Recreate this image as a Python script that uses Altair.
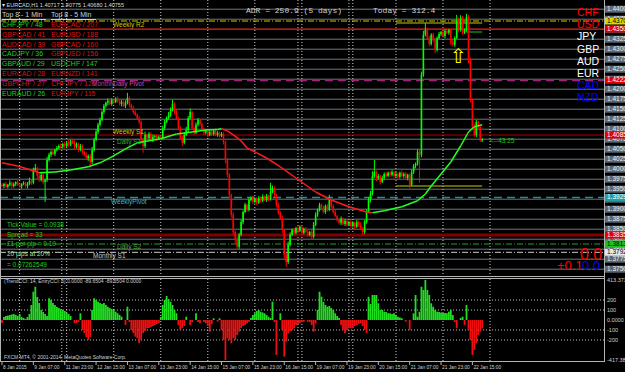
import altair as alt
import pandas as pd

# ---------------- data (prices x 10000) ----------------
open0 = 13961
close_x1e4 = [
    13958, 13963, 13956, 13961, 13966, 13958, 13963, 13968, 13961, 13956,
    13963, 13966, 13958, 13963, 13971, 13966, 13998, 14003, 13983, 13973,
    13986, 13968, 13973, 14023, 14036, 14043, 14038, 14048, 14053, 14058,
    14056, 14063, 14058, 14066, 14061, 14071, 14066, 14056, 14063, 14048,
    14058, 14043, 14036, 14028, 14033, 14018, 14048, 14073, 14093, 14111,
    14123, 14143, 14158, 14166, 14171, 14163, 14173, 14168, 14176, 14171,
    14163, 14168, 14158, 14166, 14178, 14161, 14153, 14143, 14136, 14128,
    14118, 14073, 14058, 14086, 14078, 14088, 14073, 14081, 14083, 14076,
    14081, 14078, 14103, 14118, 14128, 14136, 14148, 14163, 14143, 14128,
    14103, 14078, 14066, 14086, 14098, 14128, 14143, 14103, 14091, 14111,
    14123, 14113, 14098, 14091, 14096, 14086, 14093, 14088, 14096, 14086,
    14091, 14083, 14088, 14068, 14023, 13986, 13936, 13886, 13843, 13823,
    13806, 13836, 13868, 13893, 13911, 13898, 13923, 13928, 13918, 13926,
    13916, 13928, 13921, 13931, 13923, 13933, 13926, 13943, 13953, 13936,
    13911, 13891, 13878, 13848, 13786, 13768, 13811, 13836, 13848, 13841,
    13853, 13846, 13856, 13841, 13851, 13843, 13836, 13843, 13831, 13861,
    13886, 13898, 13911, 13903, 13893, 13908, 13898, 13923, 13908, 13893,
    13883, 13873, 13866, 13876, 13863, 13871, 13861, 13868, 13858, 13866,
    13856, 13868, 13861, 13853, 13843, 13868, 13893, 13923, 13938, 13983,
    13993, 13978, 13983, 13968, 13978, 13988, 13983, 13991, 13986, 13993,
    13983, 13988, 13981, 13991, 13983, 13988, 13978, 13986, 13961, 13993,
    14008, 14013, 14043, 14036, 14236, 14336, 14348, 14328, 14313, 14336,
    14323, 14298, 14328, 14338, 14343, 14333, 14346, 14341, 14348, 14318,
    14311, 14328, 14373, 14348, 14378, 14341, 14348, 14381, 14273, 14173,
    14106, 14086, 14118, 14106, 14072, 14075.5,
]
wick_up = [
    4, 3, 5, 2, 6, 3, 4, 2, 5, 3,
    2, 4, 3, 5, 8, 4, 6, 10, 3, 5,
    4, 6, 3, 8, 5, 4, 6, 3, 5, 4,
    6, 3, 5, 4, 7, 3, 5, 6, 4, 3,
    5, 4, 3, 6, 4, 5, 8, 6, 7, 5,
    6, 4, 5, 3, 6, 4, 5, 3, 4, 6,
    3, 5, 4, 6, 13, 4, 3, 5, 4, 3,
    5, 4, 6, 8, 3, 5, 4, 6, 3, 5,
    4, 3, 6, 5, 4, 7, 6, 10, 4, 5,
    3, 4, 5, 6, 8, 5, 9, 3, 4, 6,
    5, 4, 3, 5, 4, 3, 6, 4, 3, 5,
    4, 3, 5, 4, 3, 5, 4, 3, 6, 4,
    8, 5, 6, 4, 5, 3, 6, 4, 5, 3,
    4, 5, 3, 6, 4, 5, 3, 23, 6, 4,
    3, 5, 4, 6, 3, 5, 8, 6, 4, 5,
    3, 6, 4, 5, 3, 4, 6, 3, 5, 7,
    6, 4, 5, 3, 6, 4, 5, 13, 3, 4,
    5, 3, 4, 6, 3, 5, 4, 3, 5, 4,
    3, 5, 4, 6, 3, 5, 6, 7, 8, 12,
    30, 4, 5, 3, 6, 4, 5, 3, 4, 5,
    3, 5, 4, 3, 6, 4, 5, 3, 4, 6,
    5, 4, 7, 5, 8, 10, 17, 6, 5, 4,
    5, 6, 4, 5, 3, 6, 4, 5, 3, 4,
    5, 4, 13, 6, 7, 5, 4, 7, 5, 6,
    4, 6, 5, 4, 3, 2,
]
wick_dn = [
    3, 5, 2, 4, 3, 6, 4, 5, 3, 4,
    5, 3, 4, 6, 3, 5, 4, 3, 7, 5,
    4, 6, 50, 5, 4, 6, 3, 5, 4, 3,
    5, 4, 6, 3, 5, 4, 3, 6, 4, 5,
    3, 6, 4, 5, 7, 8, 5, 4, 3, 5,
    4, 3, 5, 4, 6, 3, 5, 4, 3, 5,
    4, 6, 3, 5, 4, 6, 4, 5, 3, 4,
    6, 8, 17, 5, 4, 6, 3, 5, 4, 6,
    3, 5, 4, 6, 3, 4, 5, 3, 6, 5,
    4, 5, 8, 4, 3, 5, 4, 6, 5, 3,
    4, 6, 3, 5, 4, 6, 3, 5, 4, 3,
    5, 4, 3, 6, 8, 6, 9, 7, 6, 8,
    8, 5, 4, 6, 3, 5, 4, 3, 5, 4,
    6, 3, 5, 4, 3, 5, 6, 4, 3, 5,
    6, 5, 4, 8, 10, 12, 5, 4, 3, 5,
    4, 6, 3, 5, 4, 3, 5, 4, 8, 4,
    3, 5, 4, 6, 3, 5, 4, 3, 5, 4,
    3, 5, 4, 6, 3, 5, 4, 3, 5, 4,
    6, 3, 5, 4, 7, 5, 4, 3, 6, 4,
    5, 8, 4, 6, 3, 5, 4, 3, 5, 4,
    6, 3, 5, 4, 3, 5, 4, 6, 9, 4,
    5, 6, 4, 70, 6, 5, 4, 5, 6, 4,
    5, 8, 4, 3, 5, 4, 6, 3, 5, 7,
    4, 5, 3, 6, 4, 5, 3, 4, 8, 6,
    5, 4, 6, 5, 4, 4,
]
cci_values = [
    -30, 30, 40, 45, 50, 55, 60, 50, 40, 60,
    30, 20, 10, 30, 60, 150, 283, 333, 230, 170,
    100, 80, 60, 40, 217, 200, 170, 150, 130, 120,
    110, 100, 90, 70, 60, 40, 0, -30, -30, -20,
    67, -100, -130, -170, -200, -170, 100, 217, 200, 183,
    170, 160, 170, 150, 133, 120, 110, 100, 83, 67,
    50, 33, 0, -50, 133, -20, -100, -130, -167, -180,
    -233, -200, -130, -110, -83, -80, -70, -60, -50, -40,
    -30, 30, 150, 200, 240, 210, 183, 150, 100, 67,
    -50, -100, -80, -60, 33, 0, -50, -20, 0, 67,
    -20, -33, 0, -20, -33, -60, -117, -40, 17, 0,
    -17, 17, -100, -200, -400, -183, -200, -233, -180, -200,
    -150, -117, -80, -60, -50, -33, -17, 20, 50, 67,
    90, 100, 83, 75, 67, 50, 33, 20, 183, -20,
    -350, 0, 67, -100, -367, -217, -133, -110, -100, -83,
    -50, -40, -33, -20, -17, 0, -17, -20, -50, -117,
    -33, 100, 283, 233, 180, 150, 133, 140, 120, 100,
    67, 40, 20, -50, -100, -133, -100, -83, -83, -83,
    -60, -50, -40, -33, -60, -100, -130, 233, 160, 250,
    250, 250, 167, 100, 100, 83, 80, 67, 67, 60,
    67, 50, 33, 25, 17, 0, -17, 0, -100, 0,
    67, 250, 33, 83, 333, 300, 400, 300, 250, 167,
    133, 100, 83, 80, 75, 70, 70, 67, 83, 100,
    50, -20, -83, 0, 20, 33, -50, 150, -100, -200,
    -350, -300, -233, -150, -117, -83,
]
ma_bar = [0, 8, 16, 19, 27, 35, 44, 50, 56, 63, 69, 75, 81, 89, 97, 104, 110, 112, 115, 118,
          122, 125, 130, 135, 142, 150, 160, 168, 177, 186, 189, 195, 204, 212, 216, 219, 224,
          229, 234, 238, 241, 245]
ma_x1e4 = [14016, 14008, 13996, 13991, 13993, 13998, 14006, 14016, 14031, 14051, 14066, 14071,
           14076, 14088, 14093, 14098, 14099, 14101, 14096, 14086, 14071, 14053, 14041, 14028,
           14006, 13978, 13943, 13923, 13906, 13893, 13891, 13896, 13906, 13921, 13938, 13958,
           13988, 14018, 14058, 14093, 14106, 14111]
day_bars = [9, 30.5, 33, 57, 81, 105, 129, 151, 153, 177, 179, 201, 225, 249]
xlabel_bars = [0, 16, 32, 48, 64, 80, 96, 112, 128, 144, 160, 176, 192, 208, 224, 240]
xlabel_text = ["8 Jan 2015", "9 Jan 07:00", "11 Jan 23:00", "12 Jan 15:00", "13 Jan 07:00",
               "13 Jan 23:00", "14 Jan 15:00", "15 Jan 07:00", "15 Jan 23:00", "16 Jan 15:00",
               "19 Jan 07:00", "19 Jan 23:00", "20 Jan 15:00", "21 Jan 07:00", "21 Jan 23:00",
               "22 Jan 15:00"]
price_ticks = [1.3750, 1.3775, 1.3800, 1.3825, 1.3850, 1.3875, 1.3900, 1.3925, 1.3950, 1.3975,
               1.4000, 1.4025, 1.4050, 1.4075, 1.4100, 1.4125, 1.4150, 1.4175, 1.4200, 1.4225,
               1.4250, 1.4275, 1.4300, 1.4325, 1.4350, 1.4375, 1.4400]
level_price = [1.43705, 1.43505, 1.42222, 1.40855, 1.39293, 1.38355, 1.38130, 1.37922]
level_color = ["#c8c800", "#c80000", "#a0207a", "#b00000", "#1f8f99", "#800000", "#22a022", "#c8c8c8"]
level_dash = [[6, 2, 1, 2], [1, 0], [8, 5], [1, 0], [8, 5], [1, 0], [6, 2, 1, 2], [6, 2, 1, 2]]
level_width = [1, 1, 2, 1, 1.5, 3, 1, 1]
level_bg = ["#d8d800", "#e00000", "#e00000", "#e00000", "#20a0a8", "#e00000", "#20c020", "#e8e8e8"]
level_fg = ["#000000", "#ffffff", "#ffffff", "#ffffff", "#ffffff", "#ffffff", "#000000", "#000000"]
seg_price = [1.43655, 1.39580, 1.43430]
seg_start = [201, 201, 237]
seg_end = [245, 245, 245]
seg_color = ["#c8c800", "#c8c800", "#20c020"]
cci_levels = [200, 100, -100, -200]
cci_labels_v = [400, 200, 100, 0, -100, -200, -405]
cci_labels_t = ["413.3734", "200", "100", "0.0000", "-100", "-200", "-417.3866"]

GREEN, RED = "#22cc22", "#dd1111"
pair_left = ["CHFJPY / 48", "GBPCAD / 41", "AUDCAD / 39", "CADJPY / 36", "GBPAUD / 29",
             "EURCAD / 28", "GBPCHF / 27", "EURAUD / 26"]
pair_left_col = [GREEN, RED, RED, GREEN, GREEN, RED, RED, GREEN]
pair_right = ["EURCAD / 207", "EURUSD / 188", "GBPCAD / 160", "GBPUSD / 156", "USDCHF / 147",
              "EURNZD / 141", "CHFJPY / 126", "EURJPY / 115"]
pair_right_col = [RED, RED, RED, RED, GREEN, RED, RED, RED]
currencies = ["CHF", "USD", "JPY", "GBP", "AUD", "EUR", "CAD", "NZD"]
currency_col = ["#ff0000", "#ff0000", "#ffffff", "#ffffff", "#ffffff", "#ffffff", "#0000ff", "#0000ff"]

# ---------------- scales ----------------
XS = alt.Scale(domain=[-1.0204, 317.857], nice=False, zero=False)
YS = alt.Scale(domain=[1.3733, 1.4423], range=[276, 0], nice=False, zero=False)
YI = alt.Scale(domain=[-417.39, 413.37], range=[361.7, 278.7], nice=False, zero=False)


def X(f):
    return alt.X(f, type="quantitative", scale=XS, axis=None)


def YP(f):
    return alt.Y(f, type="quantitative", scale=YS, axis=None)


def YV(f):
    return alt.Y(f, type="quantitative", scale=YI, axis=None)


NOC = lambda f: alt.Color(f, type="nominal", scale=None, legend=None)

# ---------------- tables ----------------
n = len(close_x1e4)
assert len(wick_up) == n and len(wick_dn) == n and len(cci_values) == n
opens = [open0] + close_x1e4[:-1]
cdf = pd.DataFrame({
    "b": list(range(n)),
    "o": [v / 1e4 for v in opens],
    "c": [v / 1e4 for v in close_x1e4],
    "h": [(max(o, c) + u) / 1e4 for o, c, u in zip(opens, close_x1e4, wick_up)],
    "l": [(min(o, c) - d) / 1e4 for o, c, d in zip(opens, close_x1e4, wick_dn)],
    "col": ["#00ff00" if c >= o else "#ff0000" for o, c in zip(opens, close_x1e4)],
})
idf = pd.DataFrame({"b": list(range(n)), "v": cci_values, "z": [0] * n,
                    "col": ["#1fe01f" if v > 0 else "#ee1010" for v in cci_values]})
mdf = pd.DataFrame({
    "b0": ma_bar[:-1], "b1": ma_bar[1:],
    "p0": [v / 1e4 for v in ma_x1e4[:-1]], "p1": [v / 1e4 for v in ma_x1e4[1:]],
    "col": ["#22ff22" if b > a else "#ff1a1a" for a, b in zip(ma_x1e4[:-1], ma_x1e4[1:])],
})
gdf = pd.DataFrame({"p": price_ticks, "lab": [f"{p:.5f}" for p in price_ticks]})
vdf = pd.DataFrame({"b": day_bars})
xdf = pd.DataFrame({"b": xlabel_bars, "t": xlabel_text})
hdf = pd.DataFrame({"p": level_price, "lab": [f"{p:.5f}" for p in level_price],
                    "bg": level_bg, "fg": level_fg})
sdf = pd.DataFrame({"p": seg_price, "b0": seg_start, "b1": seg_end, "col": seg_color})

layers = []

# horizontal grid
layers.append(alt.Chart(gdf).mark_rule(color="#6e7782", strokeWidth=1).encode(
    x=alt.value(0), x2=alt.value(604), y=YP("p")))
# vertical day separators
layers.append(alt.Chart(vdf).mark_rule(color="#d0d0d0", strokeWidth=1, strokeDash=[1, 2]).encode(
    x=X("b"), y=alt.value(0), y2=alt.value(362)))
# pivot / level lines
for p, c, d, w in zip(level_price, level_color, level_dash, level_width):
    layers.append(alt.Chart(pd.DataFrame({"p": [p]})).mark_rule(
        color=c, strokeWidth=w, strokeDash=d).encode(x=alt.value(0), x2=alt.value(604), y=YP("p")))
layers.append(alt.Chart(sdf).mark_rule(strokeWidth=1).encode(
    x=X("b0"), x2="b1", y=YP("p"), color=NOC("col")))
# candles
layers.append(alt.Chart(cdf).mark_rule(strokeWidth=1).encode(
    x=X("b"), y=YP("l"), y2="h", color=NOC("col")))
layers.append(alt.Chart(cdf).mark_rule(strokeWidth=1.6, strokeCap="butt").encode(
    x=X("b"), y=YP("o"), y2="c", color=NOC("col")))
# moving average
layers.append(alt.Chart(mdf).mark_rule(strokeWidth=1.5).encode(
    x=X("b0"), x2="b1", y=YP("p0"), y2="p1", color=NOC("col")))

# panel frames
frame = pd.DataFrame({"k": [0]})
for yy in [276.5, 278.5, 361.5]:
    layers.append(alt.Chart(frame).mark_rule(color="#b4b4b4", strokeWidth=1).encode(
        x=alt.value(0), x2=alt.value(604.5), y=alt.value(yy)))
for xx in [0.5, 604.5]:
    layers.append(alt.Chart(frame).mark_rule(color="#b4b4b4", strokeWidth=1).encode(
        x=alt.value(xx), y=alt.value(0), y2=alt.value(362)))

# indicator
layers.append(alt.Chart(pd.DataFrame({"v": cci_levels})).mark_rule(
    color="#bdbdbd", strokeWidth=1, strokeDash=[1, 2]).encode(
    x=alt.value(0), x2=alt.value(604), y=YV("v")))
layers.append(alt.Chart(idf).mark_rule(strokeWidth=1.8, strokeCap="butt").encode(
    x=X("b"), y=YV("v"), y2="z", color=NOC("col")))
layers.append(alt.Chart(pd.DataFrame({"v": cci_labels_v, "t": cci_labels_t})).mark_text(
    font="Liberation Sans", fontSize=5.5, align="left", baseline="middle", color="#d0d0d0").encode(
    x=alt.value(607), y=YV("v"), text="t:N"))

# right price labels
layers.append(alt.Chart(gdf).mark_rule(color="#5d6874", strokeWidth=7).encode(
    x=alt.value(605), x2=alt.value(625), y=YP("p")))
layers.append(alt.Chart(gdf).mark_text(font="Liberation Sans", fontSize=6.5, align="left",
                                       baseline="middle", color="#eeeeee").encode(
    x=alt.value(607), y=YP("p"), text="lab:N"))
layers.append(alt.Chart(hdf).mark_rule(strokeWidth=7).encode(
    x=alt.value(605), x2=alt.value(625), y=YP("p"), color=NOC("bg")))
layers.append(alt.Chart(hdf).mark_text(font="Liberation Sans", fontSize=6.5, align="left",
                                       baseline="middle").encode(
    x=alt.value(607), y=YP("p"), text="lab:N", color=NOC("fg")))

# x axis labels
layers.append(alt.Chart(xdf).mark_rule(color="#b4b4b4").encode(
    x=X("b"), y=alt.value(362), y2=alt.value(365)))
layers.append(alt.Chart(xdf).mark_text(font="Liberation Sans", fontSize=4.8, align="left",
                                       baseline="middle", color="#d0d0d0", dx=1).encode(
    x=X("b"), y=alt.value(367.5), text="t:N"))

# free texts
rows = [
    (2, 5, "▾ EURCAD,H1  1.40717 1.40775 1.40680 1.40755", "#dcdcdc", 5.5),
    (2, 15, "Top 8 - 1 Min", "#d0d0d0", 7),
    (51, 15, "Top 8 - 5 Min", "#d0d0d0", 7),
    (113, 25, "Weekly R2", "#c8c800", 6.5),
    (92, 84, "Monthly", "#9a4aa8", 6.5),
    (113, 84, "Daily Pivot", "#cc44cc", 6.5),
    (113, 132, "Weekly S1", "#c8c800", 6.5),
    (117, 142, "Daily S1", "#30b030", 6.5),
    (111, 202, "WeeklyPivot", "#40b8c8", 6.5),
    (117, 247, "Daily S2", "#50a050", 6.5),
    (93, 256, "Monthly S1", "#c8c8c8", 6.5),
    (7, 225, "Tick Value = 0.0938", GREEN, 6.5),
    (7, 235, "Spread = 33", GREEN, 6.5),
    (7, 244, "£1 per pip = 0.19", GREEN, 6.5),
    (7, 254, "20 pips at 20%", "#a8e0a8", 6.5),
    (7, 265, "= 0.07262549", GREEN, 6.5),
    (490, 141, "<--43:25", "#20c020", 6.5),
    (4, 281, "(TrendCCI: 14, EntryCCI: 6) 0.0000 -89.6504 -89.6504 0.0000", "#d0d0d0", 5),
    (4, 357, "FXCM MT4, © 2001-2014, MetaQuotes Software Corp.", "#d0d0d0", 5),
    (580, 255, "0.0", "#ff0000", 16),
    (557, 266, "+0.1", "#ff0000", 13),
    (582, 266, "0.0", "#0000ff", 13),
]
for i, (a, b, c) in enumerate(zip(pair_left, pair_left_col, pair_right)):
    yy = 25 + i * 9.8
    rows.append((2, yy, a, b, 7))
    rows.append((51, yy, c, pair_right_col[i], 7))
for i, (cur, col) in enumerate(zip(currencies, currency_col)):
    rows.append((577, 13 + i * 12.2, cur, col, 10.5))
tdf = pd.DataFrame(rows, columns=["tx", "ty", "t", "col", "fs"])
layers.append(alt.Chart(tdf).mark_text(font="Liberation Sans", align="left", baseline="middle").encode(
    x=alt.X("tx:Q", scale=None, axis=None), y=alt.Y("ty:Q", scale=None, axis=None),
    text="t:N", color=NOC("col"), size=alt.Size("fs:Q", scale=None, legend=None)))

mono = pd.DataFrame({"tx": [246, 373], "ty": [11, 11], "t": ["ADR = 250.9  (5 days)", "Today = 312.4"]})
layers.append(alt.Chart(mono).mark_text(font="Liberation Mono", fontSize=8, align="left",
                                        baseline="middle", color="#cfcfcf").encode(
    x=alt.X("tx:Q", scale=None, axis=None), y=alt.Y("ty:Q", scale=None, axis=None), text="t:N"))

# underline of the two "Top 8" headers
for x0, x1 in [(2, 46), (51, 96)]:
    layers.append(alt.Chart(frame).mark_rule(color="#d0d0d0", strokeWidth=1).encode(
        x=alt.value(x0), x2=alt.value(x1), y=alt.value(19.5)))

# yellow arrow
layers.append(alt.Chart(pd.DataFrame({"tx": [458], "ty": [57], "t": ["⇧"]})).mark_text(
    font="DejaVu Sans", fontSize=20, align="center", baseline="middle", color="#ffff00").encode(
    x=alt.X("tx:Q", scale=None, axis=None), y=alt.Y("ty:Q", scale=None, axis=None), text="t:N"))

chart = alt.layer(*layers).resolve_scale(
    y="independent", color="independent", size="independent"
).properties(
    width=625, height=372, padding=0, autosize="none", background="#000000"
).configure_view(stroke=None, fill="#000000")

chart.save("out.html", embed_options={"renderer": "svg", "actions": False})
